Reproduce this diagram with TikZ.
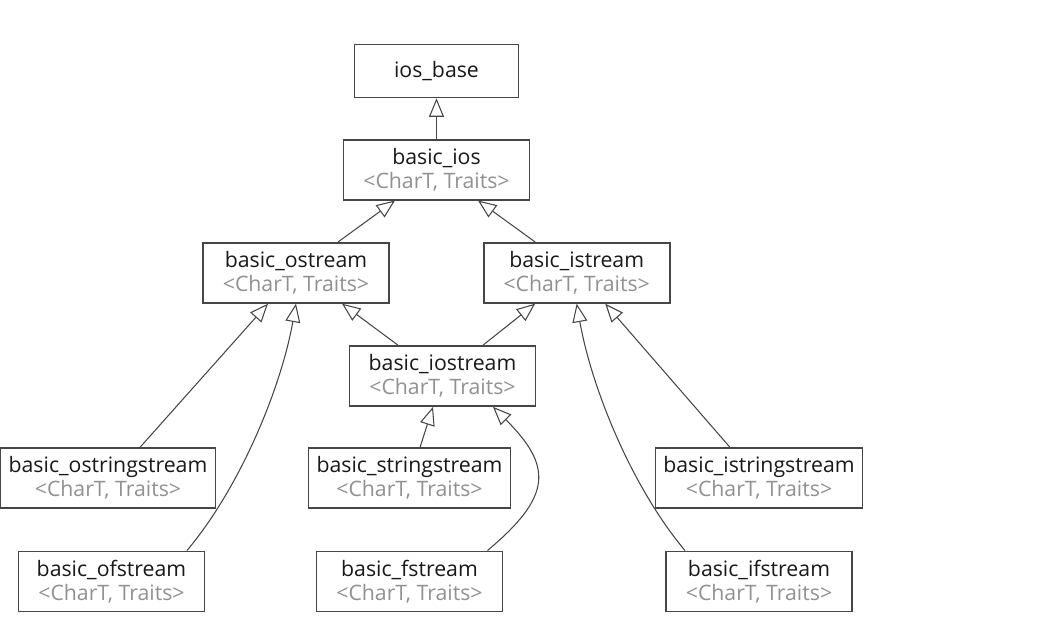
\documentclass[tikz,border=0pt]{standalone}
\usepackage{fontspec}
\setmainfont{Open Sans}
\usepackage{xcolor}
\usepackage{tikz}
\usetikzlibrary{arrows.meta, positioning}
\definecolor{linegray}{RGB}{70,70,70}
\definecolor{titletext}{RGB}{25,25,25}
\definecolor{paramtext}{RGB}{145,145,145}

\newcommand{\streamcls}[1]{\textcolor{titletext}{#1} \\ \textcolor{paramtext}{<CharT, Traits>}}

\begin{document}
\begin{tikzpicture}[
    node distance=0.83cm,
    classbox/.style={rectangle, draw=linegray, line width=0.95pt, fill=white, align=center, minimum width=3.72cm, minimum height=1.2cm, inner xsep=0.16cm, inner ysep=1pt, font=\fontsize{12.1}{13.6}\selectfont},
    inherit/.style={draw=linegray, line width=0.6pt, -{Triangle[length=10.5pt, width=8.5pt, fill=white]}}
]
\useasboundingbox (0,0) rectangle (21.08,-12.5);

\node[classbox, minimum width=3.28cm, minimum height=1.06cm] (base) at (8.73,-1.42) {\textcolor{titletext}{ios\_base}};
\node[classbox, below=0.81cm of base] (ios) {\streamcls{basic\_ios}};
\node[classbox, below=0.83cm of ios, xshift=-2.81cm] (ostream) {\streamcls{basic\_ostream}};
\node[classbox, right=1.86cm of ostream] (istream) {\streamcls{basic\_istream}};
\node[classbox, below=0.83cm of ostream, xshift=2.93cm] (iostream) {\streamcls{basic\_iostream}};
\node[classbox, below=0.81cm of iostream, xshift=-0.66cm] (sstream) {\streamcls{basic\_stringstream}};
\node[classbox, below=0.81cm of iostream, xshift=-6.69cm] (osstream) {\streamcls{basic\_ostringstream}};
\node[classbox, below=0.81cm of iostream, xshift=6.33cm] (isstream) {\streamcls{basic\_istringstream}};
\node[classbox, below=0.83cm of osstream, xshift=0.07cm] (ofstream) {\streamcls{basic\_ofstream}};
\node[classbox, below=0.83cm of sstream] (fstream) {\streamcls{basic\_fstream}};
\node[classbox, below=0.83cm of isstream] (ifstream) {\streamcls{basic\_ifstream}};

% inheritance links
\draw[inherit] (ios) -- (base);
\draw[inherit] ([xshift=0.84cm]ostream.north) -- ([xshift=-0.83cm]ios.south);
\draw[inherit] ([xshift=-0.83cm]istream.north) -- ([xshift=0.83cm]ios.south);
\draw[inherit] ([xshift=-0.89cm]iostream.north) -- ([xshift=0.92cm]ostream.south);
\draw[inherit] ([xshift=0.81cm]iostream.north) -- ([xshift=-0.83cm]istream.south);
\draw[inherit] ([xshift=0.64cm]osstream.north) -- ([xshift=-0.56cm]ostream.south);
\draw[inherit] ([xshift=1.51cm]ofstream.north) to[out=50, in=-100, looseness=0.8] (ostream.south);
\draw[inherit] ([xshift=0.21cm]sstream.north) -- ([xshift=-0.19cm]iostream.south);
\draw[inherit] ([xshift=1.56cm]fstream.north) to[out=40, in=-45, looseness=1.5] ([xshift=1.01cm]iostream.south);
\draw[inherit] ([xshift=-0.58cm]isstream.north) -- ([xshift=0.57cm]istream.south);
\draw[inherit] ([xshift=-1.48cm]ifstream.north) to[out=130, in=-80, looseness=0.8] (istream.south);
\end{tikzpicture}
\end{document}
